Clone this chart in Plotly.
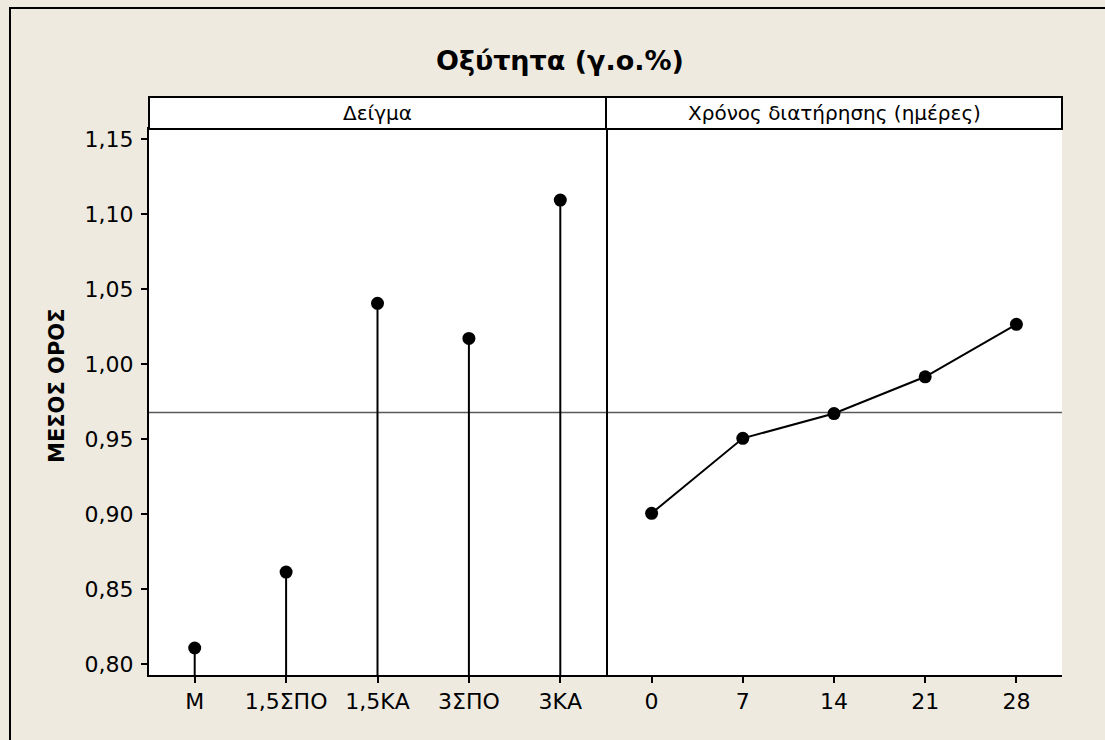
import plotly.graph_objects as go

# ---- data ----
sample_labels = ["M", "1,5ΣΠΟ", "1,5ΚΑ", "3ΣΠΟ", "3ΚΑ"]
sample_means = [0.8107, 0.8613, 1.0405, 1.0171, 1.1093]
days = [0, 7, 14, 21, 28]
day_means = [0.9005, 0.9505, 0.9670, 0.9915, 1.0265]
y_ticks = [0.80, 0.85, 0.90, 0.95, 1.00, 1.05, 1.10, 1.15]
y_tick_text = [f"{v:.2f}".replace(".", ",") for v in y_ticks]

title_text = "Οξύτητα (γ.ο.%)"
ylabel_text = "ΜΕΣΟΣ ΟΡΟΣ"
panel_titles = ["Δείγμα", "Χρόνος διατήρησης (ημέρες)"]

grand_mean = sum(sample_means) / len(sample_means)

# ---- layout geometry ----
W, H = 1105, 740
L, R, T, B = 149, 43, 129, 65
plot_w = W - L - R
plot_h = H - T - B
split = (606 - L) / plot_w
y_range = [0.7927, 1.1567]

FONT = "DejaVu Sans, Verdana, sans-serif"
BG = "rgb(238,234,224)"

fig = go.Figure()

# stems (left panel)
xs, ys = [], []
for i, v in enumerate(sample_means):
    xs += [i, i, None]
    ys += [y_range[0], v, None]
fig.add_trace(go.Scatter(x=xs, y=ys, mode="lines", line=dict(color="black", width=2),
                         xaxis="x", yaxis="y", showlegend=False, hoverinfo="skip"))
fig.add_trace(go.Scatter(x=list(range(len(sample_labels))), y=sample_means, mode="markers",
                         marker=dict(color="black", size=13), xaxis="x", yaxis="y",
                         showlegend=False))
# right panel
fig.add_trace(go.Scatter(x=days, y=day_means, mode="lines+markers",
                         line=dict(color="black", width=2),
                         marker=dict(color="black", size=13), xaxis="x2", yaxis="y",
                         showlegend=False))

axis_common = dict(showline=True, linecolor="black", linewidth=2, mirror=True,
                   ticks="outside", ticklen=6, tickwidth=1.5, tickcolor="black",
                   showgrid=False, zeroline=False,
                   tickfont=dict(family=FONT, size=22, color="black"))

fig.update_layout(
    width=W, height=H,
    margin=dict(l=L, r=R, t=T, b=B),
    paper_bgcolor=BG, plot_bgcolor="white",
    xaxis=dict(domain=[0, split], range=[-0.5, 4.5],
               tickvals=list(range(len(sample_labels))), ticktext=sample_labels,
               **axis_common),
    xaxis2=dict(domain=[split, 1], range=[-3.5, 31.5], tickvals=days,
                ticktext=[str(d) for d in days], anchor="y", **axis_common),
    yaxis=dict(range=y_range, tickvals=y_ticks, ticktext=y_tick_text,
               ticklabelstandoff=3, **axis_common),
)

strip_h = 32 / plot_h
shapes = [
    # grand mean reference line
    dict(type="line", xref="paper", yref="y", x0=0, x1=1, y0=grand_mean, y1=grand_mean,
         line=dict(color="rgb(90,90,90)", width=1.5), layer="below"),
    # strips
    dict(type="rect", xref="paper", yref="paper", x0=0, x1=split, y0=1, y1=1 + strip_h,
         fillcolor="white", line=dict(color="black", width=2)),
    dict(type="rect", xref="paper", yref="paper", x0=split, x1=1, y0=1, y1=1 + strip_h,
         fillcolor="white", line=dict(color="black", width=2)),
    # outer frame (top and left edges)
    dict(type="line", xref="paper", yref="paper",
         x0=(9 - L) / plot_w, x1=1.2, y0=(H - B - 8) / plot_h, y1=(H - B - 8) / plot_h,
         line=dict(color="black", width=2)),
    dict(type="line", xref="paper", yref="paper",
         x0=(10 - L) / plot_w, x1=(10 - L) / plot_w, y0=-0.2, y1=(H - B - 8) / plot_h,
         line=dict(color="black", width=2)),
]
fig.update_layout(shapes=shapes)

annotations = [
    dict(text=panel_titles[0], xref="paper", yref="paper", x=split / 2, y=1 + strip_h / 2,
         showarrow=False, xanchor="center", yanchor="middle",
         font=dict(family=FONT, size=20, color="black")),
    dict(text=panel_titles[1], xref="paper", yref="paper", x=(split + 1) / 2, y=1 + strip_h / 2,
         showarrow=False, xanchor="center", yanchor="middle",
         font=dict(family=FONT, size=20, color="black")),
    dict(text="<b>" + title_text + "</b>", xref="paper", yref="paper",
         x=(560 - L) / plot_w, y=(H - B - 60) / plot_h,
         showarrow=False, xanchor="center", yanchor="middle",
         font=dict(family=FONT, size=27, color="black")),
    dict(text="<b>" + ylabel_text + "</b>", xref="paper", yref="paper",
         x=(57 - L) / plot_w, y=(H - B - 386) / plot_h, textangle=-90,
         showarrow=False, xanchor="center", yanchor="middle",
         font=dict(family=FONT, size=21, color="black")),
]
fig.update_layout(annotations=annotations)

fig.write_html("out.html")
